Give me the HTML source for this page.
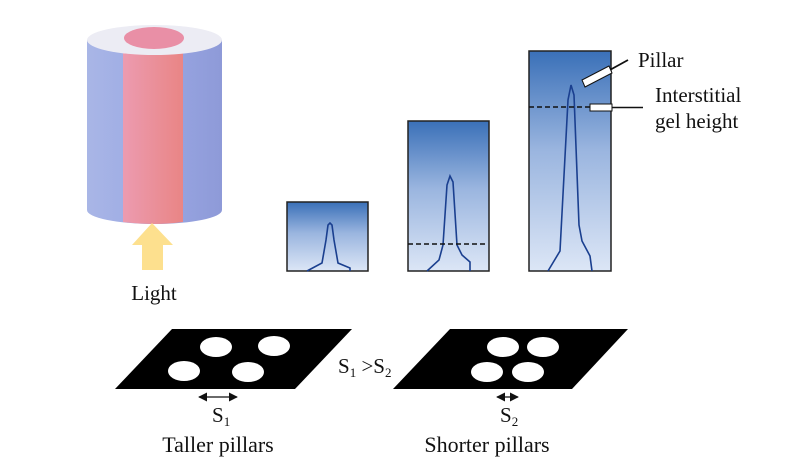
<!DOCTYPE html>
<html><head><meta charset="utf-8"><style>
html,body{margin:0;padding:0;background:#fff;}
svg{display:block;}
text{font-family:"Liberation Serif",serif;fill:#111;}
</style></head><body>
<svg width="800" height="476" viewBox="0 0 800 476" xmlns="http://www.w3.org/2000/svg">
<defs>
<linearGradient id="g" x1="0" y1="0" x2="0" y2="1">
<stop offset="0" stop-color="#3a70b8"/><stop offset="0.45" stop-color="#9ab5df"/><stop offset="1" stop-color="#dce6f6"/>
</linearGradient>
<linearGradient id="cyl" x1="0" y1="0" x2="1" y2="0">
<stop offset="0" stop-color="#a9b6e6"/><stop offset="0.5" stop-color="#9aa8e4"/><stop offset="1" stop-color="#8e9ad8"/>
</linearGradient>
<linearGradient id="pk" x1="0" y1="0" x2="1" y2="0">
<stop offset="0" stop-color="#ec9bb0"/><stop offset="1" stop-color="#e98585"/>
</linearGradient>
<marker id="ah" viewBox="0 0 10 10" refX="9" refY="5" markerWidth="7" markerHeight="7" orient="auto-start-reverse"><path d="M0,0 L10,5 L0,10 z" fill="#111"/></marker>
</defs>

<path d="M87,40 L87,210 A67.5,14 0 0 0 222,210 L222,40 Z" fill="url(#cyl)"/>
<path d="M123,40 L123,222 Q153,226 183,222 L183,40 Z" fill="url(#pk)"/>
<ellipse cx="154.5" cy="40" rx="67.5" ry="15" fill="#ececf4"/>
<ellipse cx="154" cy="38" rx="30" ry="11" fill="#e98fa6"/>
<path d="M152,223 L173,245 L163,245 L163,270 L142,270 L142,245 L132,245 Z" fill="#fde08e"/>
<text x="154" y="300" font-size="21" text-anchor="middle">Light</text>

<rect x="287" y="202" width="81" height="69" fill="url(#g)" stroke="#222" stroke-width="1.5"/>
<path d="M307,271 L322,263 L326,240 L328,225 L330,223 L332,225 L334,240 L338,263 L350,268 L350,271" fill="none" stroke="#1a3f8f" stroke-width="1.6"/>

<rect x="408" y="121" width="81" height="150" fill="url(#g)" stroke="#222" stroke-width="1.5"/>
<path d="M427,271 L439,260 L443,245 L447,185 L450,176 L453,182 L457,245 L462,255 L470,262 L470,271" fill="none" stroke="#1a3f8f" stroke-width="1.6"/>
<line x1="408" y1="244" x2="485" y2="244" stroke="#111" stroke-width="1.5" stroke-dasharray="5,3"/>

<rect x="529" y="51" width="82" height="220" fill="url(#g)" stroke="#222" stroke-width="1.5"/>
<path d="M548,271 L560,251 L568,100 L571,85 L574,95 L579,225 L582,241 L590,256 L592,271" fill="none" stroke="#1a3f8f" stroke-width="1.6"/>
<line x1="529" y1="107" x2="592" y2="107" stroke="#111" stroke-width="1.5" stroke-dasharray="5,3"/>

<line x1="608" y1="71" x2="628" y2="60" stroke="#111" stroke-width="1.8"/>
<polygon points="582,80 609,66 612,73 585,87" fill="#fff" stroke="#111" stroke-width="1"/>
<line x1="610" y1="107.5" x2="643" y2="107.5" stroke="#111" stroke-width="1.5"/>
<rect x="590" y="104" width="22" height="7" fill="#fff" stroke="#111" stroke-width="1"/>
<text x="638" y="67" font-size="21">Pillar</text>
<text x="655" y="102" font-size="21">Interstitial</text>
<text x="655" y="128" font-size="21">gel height</text>

<polygon points="172,329 352,329 295,389 115,389" fill="#000"/>
<ellipse cx="216" cy="347" rx="16" ry="10" fill="#fff"/>
<ellipse cx="274" cy="346" rx="16" ry="10" fill="#fff"/>
<ellipse cx="184" cy="371" rx="16" ry="10" fill="#fff"/>
<ellipse cx="248" cy="372" rx="16" ry="10" fill="#fff"/>
<line x1="199" y1="397" x2="237" y2="397" stroke="#111" stroke-width="1.3" marker-start="url(#ah)" marker-end="url(#ah)"/>
<text x="212" y="422" font-size="21">S<tspan font-size="13" dy="4">1</tspan></text>
<text x="218" y="452" font-size="22" text-anchor="middle">Taller pillars</text>

<text x="338" y="373" font-size="21">S<tspan font-size="13" dy="4">1</tspan><tspan dy="-4"> &gt;S</tspan><tspan font-size="13" dy="4">2</tspan></text>

<polygon points="450,329 628,329 572,389 393,389" fill="#000"/>
<ellipse cx="503" cy="347" rx="16" ry="10" fill="#fff"/>
<ellipse cx="543" cy="347" rx="16" ry="10" fill="#fff"/>
<ellipse cx="487" cy="372" rx="16" ry="10" fill="#fff"/>
<ellipse cx="528" cy="372" rx="16" ry="10" fill="#fff"/>
<line x1="497" y1="397" x2="518" y2="397" stroke="#111" stroke-width="1.3" marker-start="url(#ah)" marker-end="url(#ah)"/>
<text x="500" y="422" font-size="21">S<tspan font-size="13" dy="4">2</tspan></text>
<text x="487" y="452" font-size="22" text-anchor="middle">Shorter pillars</text>
</svg>
</body></html>
